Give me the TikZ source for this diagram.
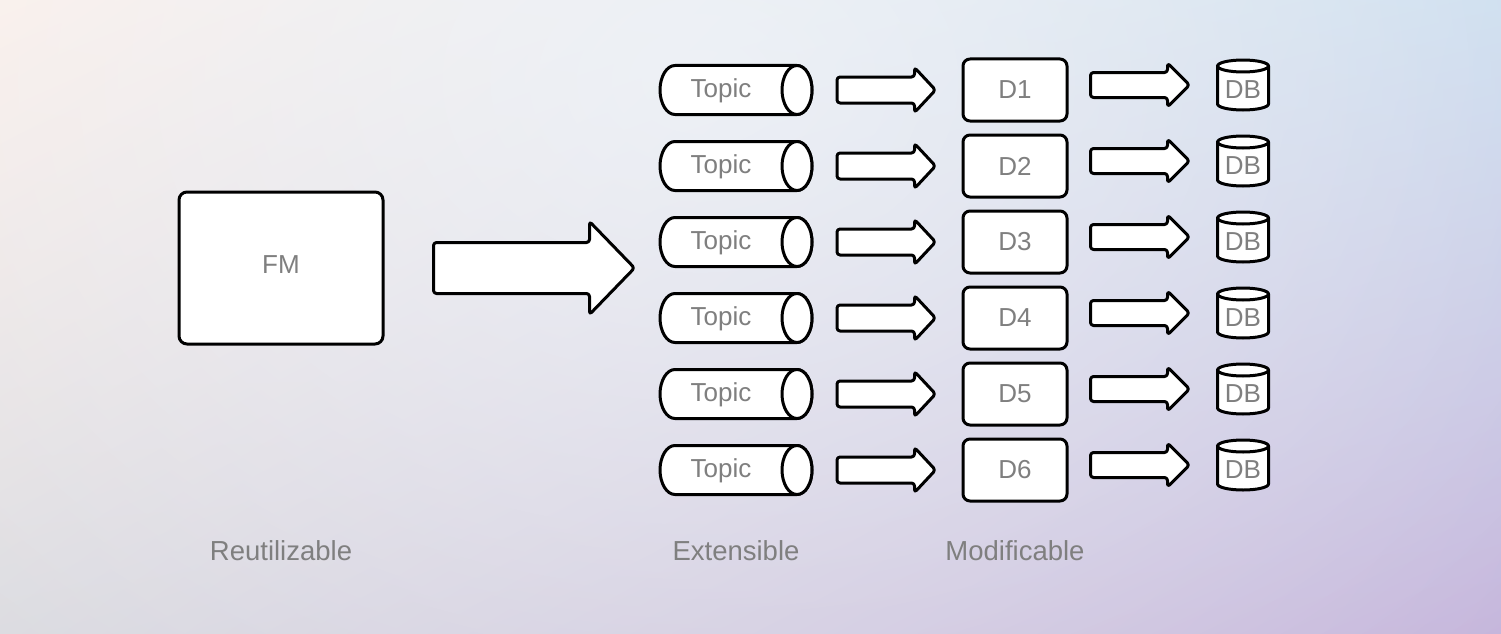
\documentclass[tikz,border=0pt]{standalone}
\usepackage{fontspec}
\setmainfont{Liberation Sans}
\usetikzlibrary{calc,fadings,shadings}
\tikzfading[name=glowfade, inner color=transparent!0, outer color=transparent!100]
\definecolor{txtgray}{HTML}{7F7F7F}
\definecolor{bgUL}{HTML}{FCEFE9}
\definecolor{bgUR}{HTML}{CADCEE}
\definecolor{bgLL}{HTML}{DBDBE0}
\definecolor{bgLR}{HTML}{C6B6DC}
\definecolor{glow}{HTML}{F3F8FC}
\tikzset{
  outline/.style={draw=black, line width=3pt, fill=white, line join=round},
  blockarr/.style={outline, rounded corners=3pt},
  lbl/.style={text=txtgray, font=\fontsize{26}{30}\selectfont, inner sep=0pt},
  caption/.style={text=txtgray, font=\fontsize{27.5}{32}\selectfont, inner sep=0pt},
  box/.style={outline, rounded corners=7pt, inner sep=0pt, text=txtgray, font=\fontsize{26}{30}\selectfont},
  holder/.style={inner sep=0pt, outer sep=0pt}
}
\begin{document}
\begin{tikzpicture}[x=1pt,y=1pt]
\useasboundingbox (0,0) rectangle (1501,-634);
\shade[upper left=bgUL, upper right=bgUR, lower left=bgLL, lower right=bgLR] (0,0) rectangle (1501,-634);
\fill[glow, opacity=0.65, path fading=glowfade] (700,-80) ellipse [x radius=1100, y radius=820];

% FM
\node[box, minimum width=204, minimum height=152, rounded corners=8pt] (fm) at (281,-268) {};
\node[lbl] (fmt) at (281,-265) {FM};
\coordinate (ba) at ($(fm.east)+(49,0)$);
\coordinate (bt) at ($(fm.east)+(250,0)$);
\draw[blockarr] ($(ba)+(0,25.5)$) -- ($(bt)+(-45,25.5)$) -- ($(bt)+(-45,46.5)$) -- (bt) -- ($(bt)+(-45,-46.5)$) -- ($(bt)+(-45,-25.5)$) -- ($(ba)+(0,-25.5)$) -- cycle;

\foreach \i/\y in {1/90,2/166,3/242,4/318,5/394,6/470} {
  % Topic cylinder
  \node[holder, minimum width=152, minimum height=49] (t\i) at (736,-\y) {};
  \draw[outline] ($(t\i.north west)+(15,0)$) -- ($(t\i.north east)+(-15,0)$)
     arc[start angle=90, end angle=-90, x radius=15, y radius=24.5]
     -- ($(t\i.south west)+(15,0)$)
     arc[start angle=270, end angle=90, x radius=15, y radius=24.5] -- cycle;
  \draw[outline] ($(t\i.east)+(-15,0)$) ellipse [x radius=15, y radius=24.5];
  \node[lbl] at ($(t\i)+(-15,-1)$) {Topic};
  % D box
  \node[box, minimum width=104, minimum height=62] (d\i) at (1015,-\y) {D\i};
  % DB cylinder
  \node[holder, minimum width=51, minimum height=50] (db\i) at (1243,{5-\y}) {};
  \draw[outline] ($(db\i.north west)+(0,-6)$) -- ($(db\i.south west)+(0,6)$)
     arc[start angle=180, end angle=360, x radius=25.5, y radius=6]
     -- ($(db\i.north east)+(0,-6)$)
     arc[start angle=0, end angle=180, x radius=25.5, y radius=6] -- cycle;
  \draw[outline, fill=none] ($(db\i.north west)+(0,-6)$) arc[start angle=180, end angle=360, x radius=25.5, y radius=6];
  \node[lbl] at ($(db\i)+(0,-5)$) {DB};
  % arrow topic -> D
  \coordinate (a\i) at ($(t\i.east)+(25,0)$);
  \coordinate (b\i) at ($(d\i.west)+(-26,0)$);
  \draw[blockarr] ($(a\i)+(0,13)$) -- ($(b\i)+(-21,13)$) -- ($(b\i)+(-21,22.5)$) -- (b\i)
     -- ($(b\i)+(-21,-22.5)$) -- ($(b\i)+(-21,-13)$) -- ($(a\i)+(0,-13)$) -- cycle;
  % arrow D -> DB
  \coordinate (e\i) at ($(d\i.east)+(22,0)$);
  \coordinate (g\i) at (e\i |- db\i.west);
  \coordinate (f\i) at ($(db\i.west)+(-28,0)$);
  \draw[blockarr] ($(g\i)+(0,12.5)$) -- ($(f\i)+(-22,12.5)$) -- ($(f\i)+(-22,22)$) -- (f\i)
     -- ($(f\i)+(-22,-22)$) -- ($(f\i)+(-22,-12.5)$) -- ($(g\i)+(0,-12.5)$) -- cycle;
}

\node[caption] (c1) at (281,-551) {Reutilizable};
\node[caption] (c2) at (736,-551) {Extensible};
\node[caption] (c3) at (1015,-551) {Modificable};
\end{tikzpicture}
\end{document}
